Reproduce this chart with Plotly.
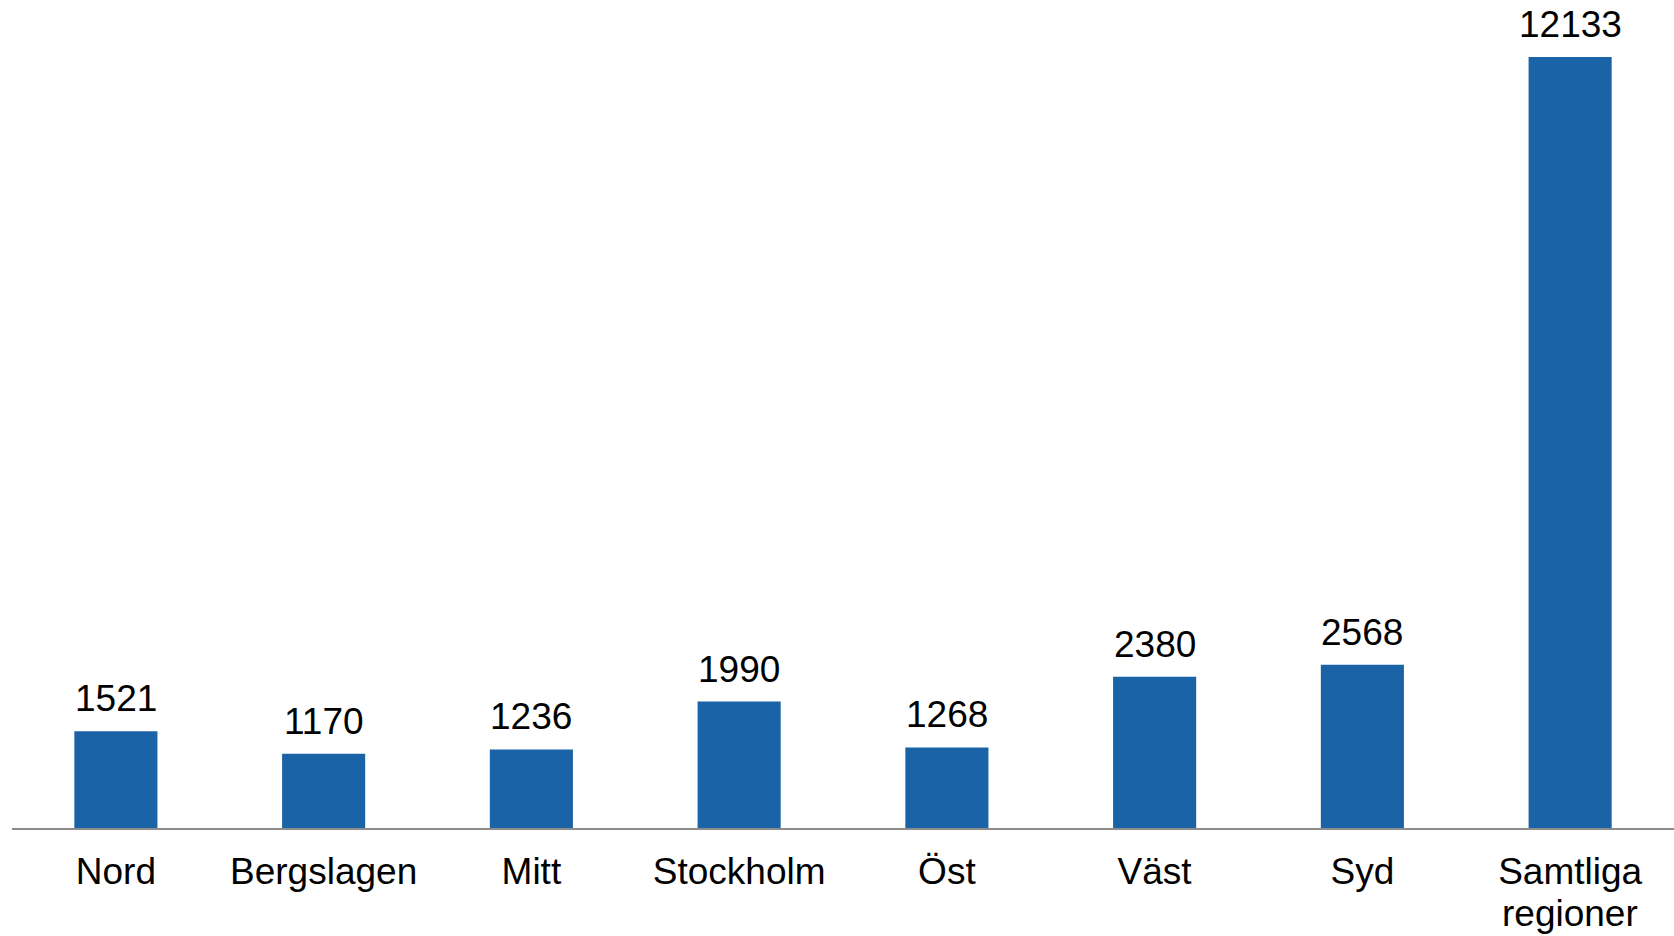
import plotly.graph_objects as go

categories = ["Nord", "Bergslagen", "Mitt", "Stockholm", "Öst", "Väst", "Syd", "Samtliga regioner"]
values = [1521, 1170, 1236, 1990, 1268, 2380, 2568, 12133]
tick_line1 = ["Nord", "Bergslagen", "Mitt", "Stockholm", "Öst", "Väst", "Syd", "Samtliga"]
tick_line2 = ["", "", "", "", "", "", "", "regioner"]

FONT = "Liberation Sans, Arial"

fig = go.Figure(go.Bar(
    x=categories, y=values,
    marker=dict(color="#1B63A7", line=dict(width=0)),
    cliponaxis=False, hoverinfo="x+y",
))
for c, v in zip(categories, values):
    fig.add_annotation(x=c, y=v, text=str(v), showarrow=False,
                       xanchor="center", yanchor="bottom", yshift=10,
                       font=dict(family=FONT, size=37, color="#000000"))
for c, t2 in zip(categories, tick_line2):
    if t2:
        fig.add_annotation(x=c, xref="x", y=0, yref="paper", text=t2, showarrow=False,
                           xanchor="center", yanchor="top", yshift=-64, borderpad=0,
                           font=dict(family=FONT, size=37, color="#000000"))
fig.update_layout(
    width=1674, height=936,
    margin=dict(l=12, r=0, t=40, b=108),
    paper_bgcolor="white", plot_bgcolor="white",
    bargap=0.6, showlegend=False,
    font=dict(family=FONT, size=37, color="#000000"),
)
fig.update_xaxes(showline=True, linecolor="#8C8C8C", linewidth=2, ticks="",
                 tickmode="array", tickvals=categories, ticktext=tick_line1,
                 tickfont=dict(size=37, color="#000000"), ticklabelstandoff=10,
                 showgrid=False, automargin=False)
fig.update_yaxes(visible=False, range=[0, 12400], showgrid=False, zeroline=False,
                 automargin=False)
fig.write_html("out.html", config={"displayModeBar": False},
               post_script="document.body.style.margin='0';document.body.style.overflow='hidden';")
